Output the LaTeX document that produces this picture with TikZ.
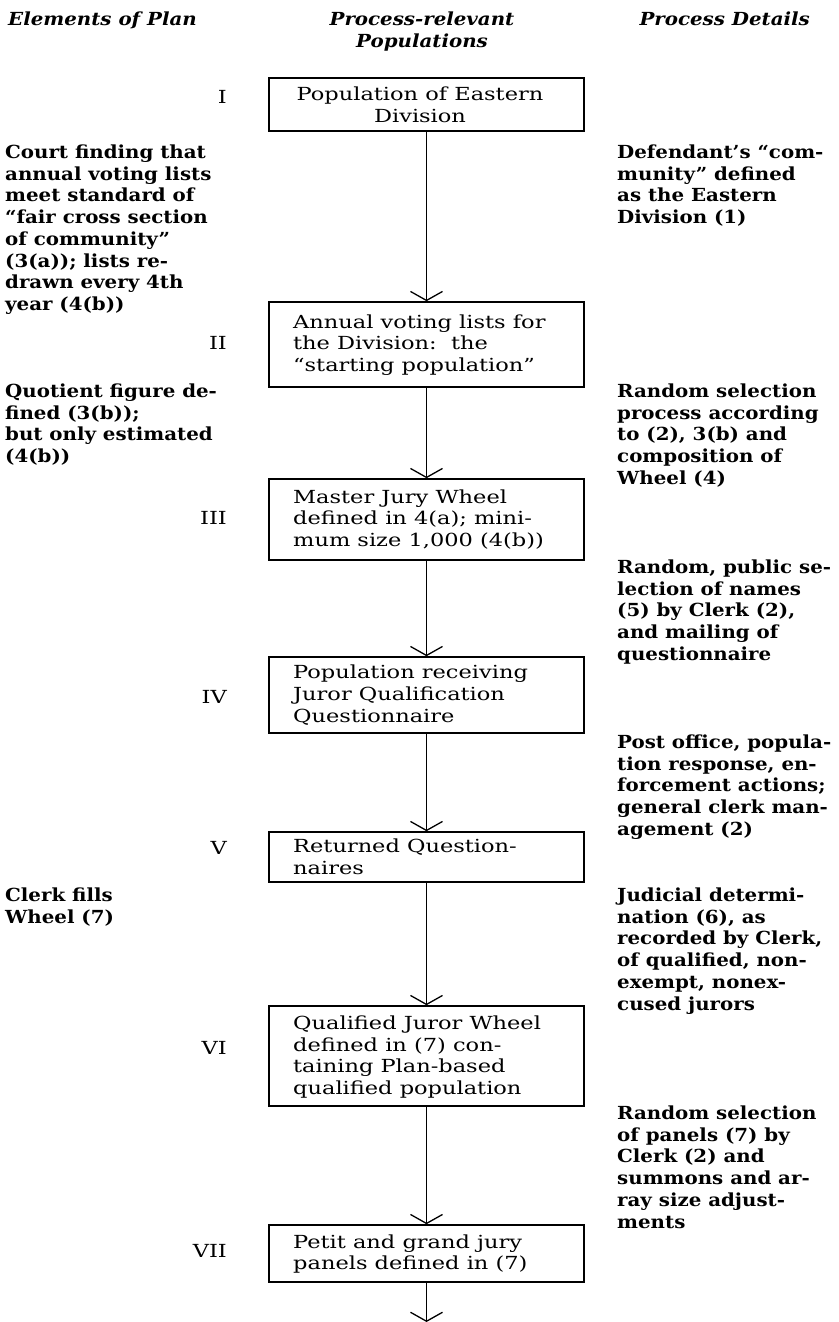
\documentclass[tikz,border=0pt]{standalone}
\usepackage{fontspec}
\setmainfont{DejaVu Serif}
\newfontfamily\boxfont[FakeStretch=1.25,Ligatures=TeX]{DejaVu Serif}
\newfontfamily\sidefont[FakeStretch=1.1,Ligatures=TeX]{DejaVu Serif}
\usetikzlibrary{arrows.meta}
\begin{document}
\begin{tikzpicture}[x=1pt,y=-1pt,
  side/.style={font=\sidefont\bfseries\fontsize{18}{21.7}\selectfont, align=left, anchor=base west, inner sep=0pt},
  head/.style={font=\sidefont\bfseries\itshape\fontsize{18}{22}\selectfont, inner sep=0pt},
  roman/.style={font=\boxfont\fontsize{18}{21}\selectfont, anchor=base east, inner sep=0pt},
  popbox/.style={draw, line width=1.6pt, minimum width=315pt, inner sep=0pt},
  boxtext/.style={font=\boxfont\fontsize{18}{21.7}\selectfont, align=left, anchor=west, inner sep=0pt},
  arr/.style={line width=1.3pt, -{Straight Barb[length=9pt,width=32pt,line width=1.3pt]}}]
\useasboundingbox (0,0) rectangle (838,1322);

% headers
\node[head, anchor=base west] (h1) at (8,26) {Elements of Plan};
\node[head, align=center, anchor=base] (h2) at (422,48) {Process-relevant\\Populations};
\node[head, anchor=base east] (h3) at (810,26) {Process Details};

% boxes
\node[popbox, minimum height=53pt] (b1) at (426.5,104.5) {};
\node[popbox, minimum height=85pt] (b2) at (426.5,344.5) {};
\node[popbox, minimum height=81pt] (b3) at (426.5,519.5) {};
\node[popbox, minimum height=76pt] (b4) at (426.5,695) {};
\node[popbox, minimum height=50pt] (b5) at (426.5,857) {};
\node[popbox, minimum height=100pt] (b6) at (426.5,1056) {};
\node[popbox, minimum height=57pt] (b7) at (426.5,1253.5) {};
\coordinate (end) at (426.5,1322);

% box texts
\node[boxtext, align=center, anchor=center] (t1) at (420,105) {Population of Eastern\\Division};
\node[boxtext] (t2) at (293,345) {Annual voting lists for\\the Division:\ \ the\\“starting population”};
\node[boxtext] (t3) at (293,519.5) {Master Jury Wheel\\defined in 4(a); mini-\\mum size 1,000 (4(b))};
\node[boxtext] (t4) at (293,695) {Population receiving\\Juror Qualification\\Questionnaire};
\node[boxtext] (t5) at (293,857) {Returned Question-\\naires};
\node[boxtext] (t6) at (293,1057) {Qualified Juror Wheel\\defined in (7) con-\\taining Plan-based\\qualified population};
\node[boxtext] (t7) at (293,1254) {Petit and grand jury\\panels defined in (7)};

% arrows
\draw[arr] (b1.south) -- (b2.north);
\draw[arr] (b2.south) -- (b3.north);
\draw[arr] (b3.south) -- (b4.north);
\draw[arr] (b4.south) -- (b5.north);
\draw[arr] (b5.south) -- (b6.north);
\draw[arr] (b6.south) -- (b7.north);
\draw[arr] (b7.south) -- (end);

% roman numerals
\node[roman] (r1) at (227,103) {I};
\node[roman] (r2) at (227,349) {II};
\node[roman] (r3) at (227,524) {III};
\node[roman] (r4) at (227,703) {IV};
\node[roman] (r5) at (227,854) {V};
\node[roman] (r6) at (227,1054) {VI};
\node[roman] (r7) at (227,1257) {VII};

% left column (anchor = baseline of last line)
\node[side] (l1) at (5,310.4) {Court finding that\\annual voting lists\\meet standard of\\“fair cross section\\of community”\\(3(a)); lists re-\\drawn every 4th\\year (4(b))};
\node[side] (l2) at (5,462.6) {Quotient figure de-\\fined (3(b));\\but only estimated\\(4(b))};
\node[side] (l3) at (5,923.2) {Clerk fills\\Wheel (7)};

% right column
\node[side] (p1) at (617,223.6) {Defendant’s “com-\\munity” defined\\as the Eastern\\Division (1)};
\node[side] (p2) at (617,484.3) {Random selection\\process according\\to (2), 3(b) and\\composition of\\Wheel (4)};
\node[side] (p3) at (617,660.3) {Random, public se-\\lection of names\\(5) by Clerk (2),\\and mailing of\\questionnaire};
\node[side] (p4) at (617,835.3) {Post office, popula-\\tion response, en-\\forcement actions;\\general clerk man-\\agement (2)};
\node[side] (p5) at (617,1010) {Judicial determi-\\nation (6), as\\recorded by Clerk,\\of qualified, non-\\exempt, nonex-\\cused jurors};
\node[side] (p6) at (617,1228) {Random selection\\of panels (7) by\\Clerk (2) and\\summons and ar-\\ray size adjust-\\ments};
\end{tikzpicture}
\end{document}
